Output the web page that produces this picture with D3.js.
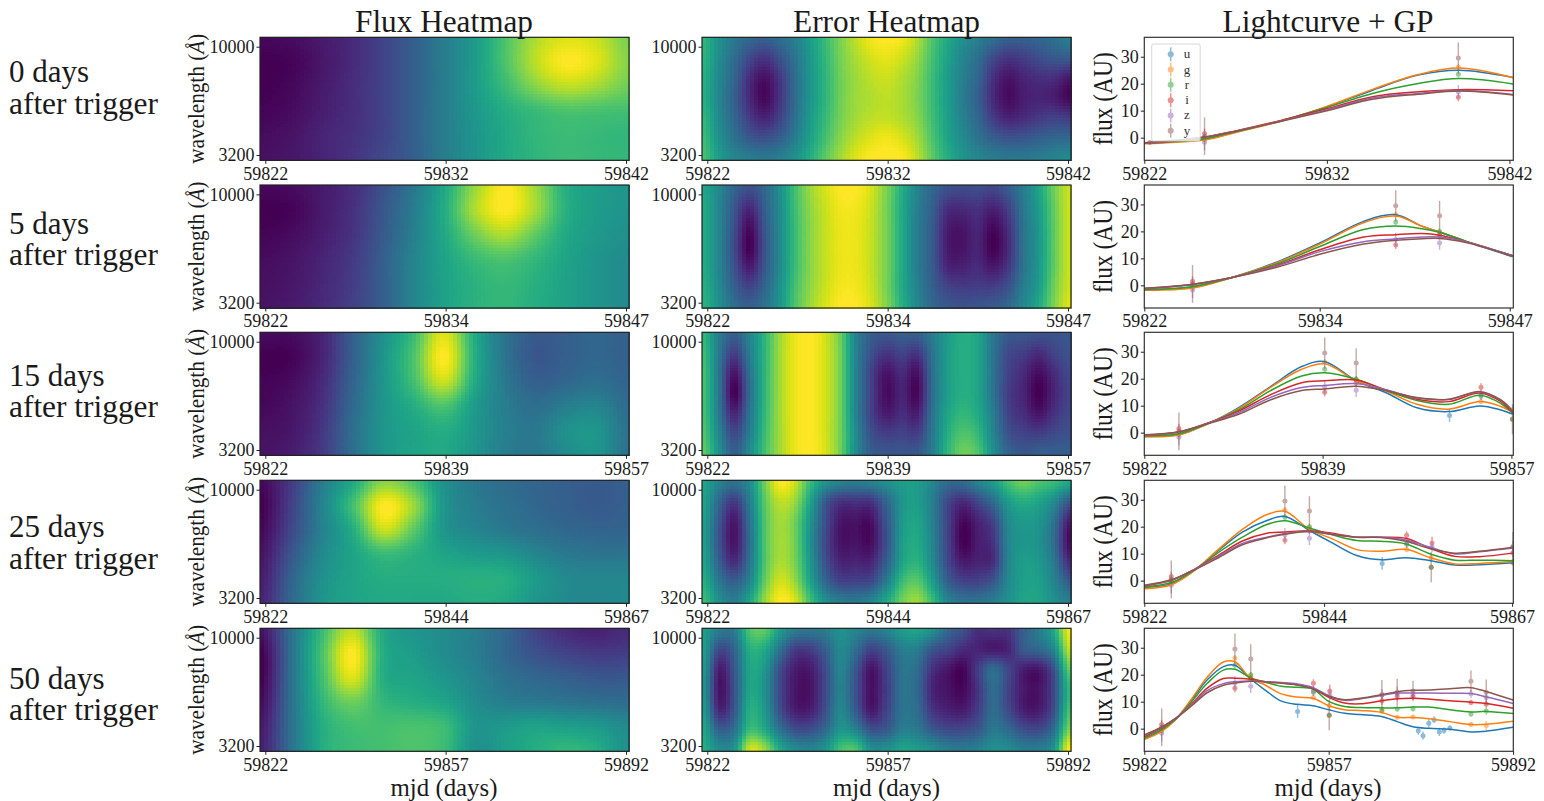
<!DOCTYPE html>
<html>
<head>
<meta charset="utf-8">
<script src="https://cdn.jsdelivr.net/npm/d3@7"></script>
<style>
  html, body { margin: 0; padding: 0; background: #fff; }
  svg { display: block; }
  text { font-family: "Liberation Serif", serif; fill: #1a1a1a; }
</style>
</head>
<body>
<svg id="chart" width="1544" height="801"></svg>
<script>
//////////
// DATA //
//////////

const rowNames = ["0 days", "5 days", "15 days", "25 days", "50 days"];
const midLabels = [59832, 59834, 59839, 59844, 59857];
const endLabels = [59842, 59847, 59857, 59867, 59892];
const rowEnds = [59842.2, 59847.23, 59857.16, 59867.12, 59892];
const startMjd = 59822;
const wavelengths = [10000, 3200];
const fluxTicks = [0, 10, 20, 30];
const bandNames = ["u", "g", "r", "i", "z", "y"];
const bandColors = ["#1f77b4", "#ff7f0e", "#2ca02c", "#d62728", "#9467bd", "#8c564b"];

// flux heatmaps, colour fraction per panel, top row is 10000 A
const flux0 = [
  [.02,.03,.07,.12,.2,.3,.42,.55,.72,.88,.95,.92,.8],
  [0,.01,.06,.12,.2,.3,.42,.55,.72,.9,1,.95,.82],
  [0,.02,.07,.13,.2,.3,.42,.55,.68,.82,.9,.86,.78],
  [.01,.03,.08,.13,.2,.3,.42,.53,.62,.68,.72,.71,.7],
  [.03,.05,.1,.14,.2,.3,.42,.52,.6,.66,.68,.67,.66],
  [.04,.06,.1,.15,.22,.3,.42,.52,.6,.65,.68,.67,.66]
];
const flux1 = [
  [.02,.03,.07,.13,.25,.4,.6,.85,1,.85,.62,.55,.52],
  [0,.01,.07,.14,.27,.42,.62,.88,1,.86,.63,.55,.52],
  [.01,.03,.08,.15,.28,.43,.6,.78,.88,.75,.6,.54,.5],
  [.03,.05,.1,.17,.3,.45,.58,.68,.72,.66,.58,.52,.48],
  [.04,.06,.11,.18,.3,.45,.57,.64,.67,.63,.57,.52,.47],
  [.05,.07,.12,.19,.3,.45,.57,.64,.66,.62,.57,.52,.47]
];
const flux2 = [
  [.03,.03,.1,.3,.5,.68,.95,.6,.38,.28,.3,.33,.3],
  [0,.01,.1,.3,.52,.72,1,.62,.38,.27,.3,.33,.3],
  [.01,.03,.12,.32,.52,.7,.92,.6,.4,.3,.33,.36,.32],
  [.02,.05,.14,.34,.52,.62,.72,.54,.42,.36,.42,.45,.35],
  [.04,.06,.16,.36,.52,.58,.62,.53,.43,.4,.5,.52,.38],
  [.05,.08,.17,.36,.52,.58,.6,.52,.42,.4,.48,.52,.38]
];
const flux3 = [
  [.02,.18,.42,.6,.82,.72,.5,.4,.35,.32,.3,.28,.3],
  [0,.2,.45,.7,1,.85,.52,.42,.37,.33,.3,.28,.3],
  [.02,.22,.44,.62,.92,.75,.52,.45,.4,.36,.33,.32,.32],
  [.05,.27,.47,.58,.68,.64,.58,.54,.52,.45,.4,.38,.38],
  [.08,.32,.5,.58,.62,.62,.62,.63,.62,.54,.47,.46,.46],
  [.1,.34,.52,.58,.6,.6,.6,.62,.6,.52,.47,.46,.47]
];
const flux4 = [
  [.05,.38,.68,.9,.6,.52,.48,.42,.33,.2,.12,.09,.12],
  [0,.38,.72,1,.62,.55,.48,.42,.33,.25,.2,.17,.18],
  [0,.38,.7,.95,.62,.58,.52,.45,.37,.33,.3,.27,.27],
  [.03,.38,.66,.78,.66,.62,.58,.48,.42,.4,.38,.36,.35],
  [.07,.38,.62,.7,.7,.71,.68,.52,.54,.57,.55,.53,.47],
  [.09,.38,.62,.68,.7,.72,.68,.5,.56,.62,.66,.62,.5]
];

// error heatmaps
const error0 = [
  [.65,.5,.4,.33,.3,.35,.43,.55,.68,.8,.9,.98,1,.98,.88,.72,.6,.5,.42,.35,.3,.3,.32,.36,.42],
  [.64,.48,.35,.22,.15,.25,.38,.53,.66,.79,.87,.93,.96,.92,.84,.7,.57,.45,.36,.22,.15,.18,.23,.27,.28],
  [.62,.46,.32,.13,.04,.16,.35,.52,.65,.78,.85,.9,.92,.88,.81,.68,.55,.43,.32,.14,.05,.1,.13,.13,.06],
  [.62,.45,.3,.12,.02,.15,.35,.52,.65,.78,.85,.88,.9,.87,.8,.68,.55,.42,.3,.12,.03,.08,.1,.08,.02],
  [.65,.47,.33,.18,.1,.2,.37,.54,.67,.79,.86,.9,.91,.88,.82,.69,.56,.44,.33,.18,.1,.13,.17,.2,.18],
  [.68,.5,.38,.28,.25,.3,.42,.57,.7,.82,.9,.95,.98,.94,.86,.72,.58,.48,.38,.3,.26,.27,.3,.33,.34],
  [.7,.55,.46,.42,.4,.43,.5,.62,.75,.86,.95,1,1,1,.9,.75,.62,.52,.46,.42,.4,.4,.42,.45,.48]
];
const error1 = [
  [.58,.46,.32,.25,.33,.5,.7,.85,.94,1,1,.94,.8,.62,.45,.33,.25,.23,.24,.22,.3,.42,.58,.78,.92],
  [.6,.45,.27,.12,.3,.48,.69,.83,.92,.98,.98,.92,.79,.6,.43,.3,.14,.13,.15,.1,.2,.4,.55,.76,.92],
  [.6,.45,.24,.03,.27,.47,.68,.82,.91,.97,.97,.91,.79,.6,.42,.28,.08,.06,.11,.02,.14,.38,.53,.75,.92],
  [.6,.45,.22,0,.25,.47,.68,.82,.91,.97,.97,.91,.79,.6,.42,.28,.07,.05,.1,0,.12,.38,.52,.75,.92],
  [.6,.45,.25,.07,.27,.47,.68,.82,.91,.97,.97,.91,.79,.6,.42,.28,.1,.09,.12,.06,.16,.38,.53,.75,.92],
  [.62,.47,.3,.2,.32,.5,.7,.83,.92,.98,.98,.92,.79,.6,.44,.3,.2,.17,.18,.18,.25,.42,.55,.78,.92],
  [.64,.5,.36,.3,.38,.52,.72,.85,.94,1,1,.94,.81,.63,.46,.33,.27,.25,.26,.28,.33,.46,.6,.8,.95]
];
const error2 = [
  [.65,.42,.3,.45,.65,.85,.97,1,.93,.77,.45,.3,.27,.3,.3,.42,.55,.62,.58,.4,.28,.27,.25,.25,.27],
  [.68,.4,.18,.42,.65,.86,.97,1,.93,.78,.45,.25,.15,.2,.15,.38,.55,.62,.58,.38,.22,.18,.12,.2,.25],
  [.7,.38,.05,.37,.65,.86,.97,1,.93,.78,.45,.2,.05,.12,.04,.36,.55,.62,.58,.38,.2,.12,.03,.12,.22],
  [.7,.38,0,.35,.65,.86,.97,1,.93,.78,.45,.2,.03,.1,.02,.35,.55,.62,.58,.38,.18,.1,0,.1,.2],
  [.7,.4,.1,.38,.66,.86,.97,1,.93,.78,.45,.2,.07,.13,.08,.38,.58,.66,.6,.42,.2,.13,.05,.14,.22],
  [.72,.45,.22,.42,.68,.86,.97,1,.93,.78,.48,.25,.18,.2,.18,.4,.62,.72,.66,.45,.25,.2,.18,.22,.25],
  [.75,.5,.3,.48,.7,.86,.97,1,.94,.78,.48,.3,.27,.27,.28,.42,.65,.78,.72,.5,.32,.27,.3,.3,.3]
];
const error3 = [
  [.58,.45,.38,.48,.78,1,.92,.68,.52,.45,.42,.45,.5,.55,.55,.45,.35,.35,.45,.55,.7,.78,.72,.68,.6],
  [.57,.33,.17,.42,.74,.9,.84,.58,.28,.15,.15,.15,.33,.52,.55,.42,.22,.12,.22,.35,.55,.62,.58,.48,.28],
  [.55,.27,.06,.37,.72,.86,.78,.52,.24,.06,.05,.04,.27,.53,.58,.43,.2,.02,.1,.2,.47,.54,.52,.38,.08],
  [.55,.25,.05,.35,.72,.86,.78,.5,.22,.05,.05,.03,.25,.55,.6,.45,.2,0,.08,.15,.45,.52,.5,.35,.03],
  [.57,.3,.12,.38,.72,.87,.79,.53,.25,.1,.1,.1,.3,.57,.64,.47,.22,.07,.1,.13,.45,.55,.53,.4,.12],
  [.62,.4,.3,.45,.76,.93,.84,.58,.33,.2,.2,.22,.42,.68,.74,.55,.3,.2,.2,.27,.47,.56,.56,.45,.28],
  [.68,.5,.42,.58,.84,1,.94,.7,.5,.42,.4,.45,.6,.78,.85,.68,.45,.38,.38,.42,.5,.58,.58,.5,.42]
];
const error4 = [
  [.55,.42,.42,.72,.75,.55,.42,.4,.42,.5,.45,.4,.45,.55,.58,.5,.33,.25,.13,.15,.15,.3,.42,.6,.98],
  [.54,.22,.32,.62,.6,.38,.18,.18,.3,.47,.36,.2,.28,.42,.42,.26,.2,.12,.1,.07,.1,.28,.33,.46,.9],
  [.52,.08,.27,.58,.53,.24,.08,.07,.23,.45,.27,.05,.2,.38,.35,.14,.06,.01,.18,.35,.21,.08,.06,.25,.75],
  [.5,.05,.25,.58,.5,.22,.06,.05,.22,.43,.25,.04,.18,.38,.33,.1,.05,.02,.15,.35,.2,.07,.05,.22,.65],
  [.53,.1,.27,.62,.53,.24,.08,.08,.24,.46,.28,.06,.2,.38,.35,.15,.09,.07,.18,.35,.22,.08,.07,.24,.7],
  [.58,.3,.37,.68,.6,.38,.24,.24,.34,.52,.44,.25,.28,.42,.4,.28,.22,.22,.27,.4,.34,.24,.22,.36,.8],
  [.62,.48,.52,.92,.85,.6,.48,.45,.52,.7,.72,.5,.5,.58,.55,.5,.42,.4,.43,.5,.48,.42,.42,.52,1]
];

// observations, days after 59822
const uDays = [29.1, 52, 52.9, 54, 55, 56, 56.9, 58];
const uFlux = [6.4, -0.8, -2.6, 2, 3.3, -1.2, -0.7, 0.2];
const uErr = [2.4, 1.5, 1.5, 1.5, 1.2, 1.5, 1.2, 1];
const gDays = [3.3, 17.2, 20.2, 32.1, 35.1, 45.1, 48, 51, 62, 64.9];
const gFlux = [-0.2, 26.2, 19.5, 11.5, 8.5, 6.5, 4.2, 4.3, 1.5, 1.2];
const gErr = [1.2, 1, 1, 1, 1, 1, 0.7, 0.6, 1, 1.6];
const rDays = [3.3, 17.2, 20.2, 32.1, 35.1, 45.1, 48, 51, 62, 64.9];
const rFlux = [-0.5, 23.5, 20, 13.5, 5, 7, 7.3, 7.4, 5.4, 6.5];
const rErr = [1, 1.2, 1, 1.2, 1, 1.2, 1, 1, 1, 1.3];
const iDays = [3.3, 17.2, 20.2, 32.1, 35.2, 45.1, 48, 51, 62, 64.9];
const iFlux = [1.5, 15, 18.5, 16.8, 14, 10.3, 12, 11.8, 9.7, 9];
const iErr = [1.8, 1.5, 1.2, 1.5, 2.3, 1.5, 1.5, 1.2, 1, 1.2];
const zDays = [3.3, 17.2, 20.2, 32.1, 35.2, 45.1, 48, 51, 62, 64.9];
const zFlux = [-1.7, 17, 15.7, 14, 12.5, 12.7, 13, 12.7, 12.9, 11.5];
const zErr = [3, 2.5, 2.5, 1.8, 2, 2, 2.5, 1.5, 1.5, 1.8];
const yDays = [3.3, 17.2, 20.2, 35.1, 45.1, 48, 51, 62, 64.9];
const yFlux = [0.5, 29.5, 25.8, 5, 12.5, 13.5, 14, 17.6, 13.5];
const yErr = [7, 5.8, 5.5, 5.6, 5.5, 5, 3.8, 4, 4.7];
const firstRowExtraDay = [0.3];
const firstRowExtraFlux = [-1.8];

// GP mean curves, one list per band in u g r i z y order
const gpDays0 = [0, 1.5, 3.3, 5, 7.5, 10, 12.5, 15, 17.26, 20.2];
const gp0 = [
  [-2.1,-1.6,-.6,2.1,6.2,11.4,17.6,23.2,25,22.3],
  [-2.3,-1.8,-.9,1.9,6.2,11.6,17.9,23.4,25.8,22.2],
  [-2.1,-1.5,-.4,2.2,6.3,11.2,16.4,20.1,21.9,19.9],
  [-2,-1.3,.2,2.5,6.4,10.7,15.2,17,17.8,17.4],
  [-2,-1.2,.1,2.4,6.2,10.3,14.7,16.4,17.5,16],
  [-1.9,-1.1,.2,2.4,6.1,10,14.2,16.1,17.3,15.8]
];
const gpDays1 = [0, 3.3, 6, 9, 12, 15, 17.2, 19, 20.2, 22, 25.2];
const gp1 = [
  [-1.7,-.5,2.9,8.5,15.7,23.7,26.2,21.9,19.8,16.3,10.6],
  [-1.8,-1,2.9,8.2,15.3,23.2,25.7,21.9,19.8,16.3,11],
  [-1.6,-.5,2.9,7.8,14.4,20.7,22,21,19.7,16.4,11],
  [-1.3,.3,2.9,7.3,13.2,17.9,18.8,19.2,18.6,16.2,11],
  [-1.2,.3,2.9,7,12.5,16.2,17.2,17.9,17.9,16.2,11],
  [-1.1,.4,2.9,6.6,11.5,15.3,16.7,17.3,17.4,15.9,10.8]
];
const gpDays2 = [0, 3.3, 6, 9, 12, 15, 17.2, 20.2, 23, 26, 29, 32, 34, 35.16];
const gp2 = [
  [-1.4,-.7,3.2,9.3,17,24.5,26.3,19.2,14.9,9.2,7.8,9.9,8.4,6.8],
  [-1.5,-.9,3.2,8.9,16.7,23.5,25.5,19.2,15.5,10.5,8.7,11.5,9.7,7.4],
  [-1.2,-.4,3.3,8.4,15.5,21,22.2,19.8,15.7,11.9,10.5,13.9,10.8,7.1],
  [-1,.2,3.5,8,14,18.5,19.2,19.5,15.9,12.4,11.5,14.7,11.5,7.3],
  [-.9,.2,3.4,7.4,13,16.7,17.5,18.2,15.9,12.8,12.4,15.1,12,7.7],
  [-.8,.3,3.3,6.8,12.1,15.6,16.2,17.2,15.6,13,12.3,15.2,12.1,7.8]
];
const gpDays3 = [0, 3.3, 6, 9, 12, 15, 17.2, 20.2, 23, 26, 29, 32, 35, 38, 41, 45.12];
const gp3 = [
  [-2.5,-1.2,3.5,11,18,22.3,23.8,18.6,14,9.3,7.7,8.5,7.4,5.8,5.9,6.6],
  [-3,-1.5,3.5,11.4,19,24.5,25.7,19,15.5,11.5,10.9,11.6,8.5,6.2,6.4,7.1],
  [-2.4,-.7,3.7,10.3,16.1,20.8,22.2,19.5,17,14.9,14.6,13.6,9.9,7.6,7.6,7.4],
  [-2,.1,4,9.3,14.7,17.6,18,18.5,17.6,16.1,16.1,15.7,12,9,8.9,10.2],
  [-1.8,.2,3.9,8.8,13.8,16.1,17.5,18.3,17.2,16.1,16.1,15.1,12.4,9.9,10.7,12.1],
  [-1.7,.3,3.8,8.4,13.3,15.9,17.2,18.2,17.1,16.1,16,14.6,11.8,10.2,10.9,12.4]
];
const gpDays4 = [0, 3.3, 6, 9, 12, 15, 17.2, 20.2, 23, 26, 29, 32, 35, 38, 41, 45, 48, 51, 54, 58, 62, 65, 70];
const gp4 = [
  [-3.8,-.7,3.5,10.7,18.2,23,23.5,18.4,14.2,10.2,9,8.5,7,5.7,5.2,4.5,2.6,.7,.1,-.2,-1.2,-.9,.5],
  [-4,-1,3.5,11.1,19.2,24.7,24.8,18.6,16.1,12.9,11.7,11.3,8.5,7,6.7,6,4.2,4.1,3.7,2.6,1.5,1.6,2.7],
  [-3.5,-.3,3.6,10.1,16.9,21.7,22,18.8,17.2,15.7,15.3,14.7,10.1,8.2,7.8,7.7,7.7,8,8,7,6.2,6.4,5.6],
  [-3,.3,3.8,9.2,15.1,18.6,18.7,18.3,17.4,16.9,16.3,14.9,11.6,9.5,9.2,10.3,11.1,11.3,11,10.3,9.8,9.3,7.6],
  [-2.5,.5,3.9,8.8,14.2,16.7,17.4,17.7,17.4,17.1,16.6,15.3,12.2,10.5,11,12.3,13.2,13.2,13.2,13.1,13,11.7,9.3],
  [-2.3,.6,3.9,8.5,13.4,16.1,16.9,17.6,17.3,16.9,16.2,14.8,12,10.7,11.3,12.6,13.7,14.2,14.3,14.8,15.2,13.7,10.6]
];

const fluxGrids = [flux0, flux1, flux2, flux3, flux4];
const errorGrids = [error0, error1, error2, error3, error4];
const gpDays = [gpDays0, gpDays1, gpDays2, gpDays3, gpDays4];
const gpCurves = [gp0, gp1, gp2, gp3, gp4];
const obsDays = [uDays, gDays, rDays, iDays, zDays, yDays];
const obsFlux = [uFlux, gFlux, rFlux, iFlux, zFlux, yFlux];
const obsErr = [uErr, gErr, rErr, iErr, zErr, yErr];

////////////
// LAYOUT //
////////////

const rowTops = [37.3, 185, 332.3, 480.3, 628.3];
const rowH = 123;
const panelW = 369;
const fluxLeft = 260;
const errorLeft = 702;
const lcLeft = 1144.3;
const cellCols = 92;
const cellRows = 41;

const svg = d3.select("#chart");
const color = d3.scaleSequential(d3.interpolateViridis).domain([0, 1]).clamp(true);

function label(x, y, str, size, len, rotate) {
  let t = svg.append("text")
    .attr("text-anchor", "middle")
    .attr("font-size", size)
    .attr("textLength", len)
    .attr("lengthAdjust", "spacingAndGlyphs")
    .text(str);
  t.attr("transform", rotate ? `translate(${x}, ${y}) rotate(-90)` : `translate(${x}, ${y})`);
  return t;
}

function styleAxis(g) {
  g.select(".domain").remove();
  g.selectAll("line").attr("stroke", "#222").attr("stroke-width", 1);
  g.selectAll("text")
    .attr("font-family", "Liberation Serif, serif")
    .attr("font-size", 18)
    .attr("fill", "#333");
}

// catmull-rom through the read-off values, so peaks stay where they were read
function through(vals) {
  let n = vals.length - 1;
  return t => {
    let p = Math.min(t, 0.99999) * n;
    let i = Math.floor(p);
    let u = p - i;
    let a = vals[Math.max(i - 1, 0)], b = vals[i], c = vals[i + 1], d = vals[Math.min(i + 2, n)];
    return b + 0.5 * u * (c - a + u * (2 * a - 5 * b + 4 * c - d + u * (3 * (b - c) + d - a)));
  };
}

function drawHeat(grid, left, top, row) {
  let rowInterp = grid.map(r => through(r));
  let cols = d3.range(cellCols);
  let rows = d3.range(cellRows);
  let x = d3.scaleBand().domain(cols).range([left, left + panelW]);
  let y = d3.scaleBand().domain(rows).range([top, top + rowH]);
  let cells = [];
  for (let c of cols) {
    let column = through(rowInterp.map(f => f(c / (cellCols - 1))));
    for (let r of rows) {
      cells.push({ c: c, r: r, v: column(r / (cellRows - 1)) });
    }
  }
  let g = svg.append("g").attr("shape-rendering", "crispEdges");
  g.selectAll("rect")
    .data(cells)
    .enter()
    .append("rect")
    .attr("x", d => x(d.c))
    .attr("y", d => y(d.r))
    .attr("width", x.bandwidth() + 0.6)
    .attr("height", y.bandwidth() + 0.6)
    .attr("fill", d => color(d.v));

  svg.append("rect")
    .attr("x", left).attr("y", top)
    .attr("width", panelW).attr("height", rowH)
    .attr("fill", "none").attr("stroke", "#222").attr("stroke-width", 1.2);

  let xTicks = d3.scalePoint()
    .domain([startMjd, midLabels[row], endLabels[row]])
    .range([left + 5.3, left + 366]);
  svg.append("g")
    .attr("transform", `translate(0, ${top + rowH})`)
    .call(d3.axisBottom(xTicks).tickSize(3.5).tickPadding(3).tickFormat(d3.format("d")))
    .call(styleAxis);

  let yTicks = d3.scalePoint()
    .domain(wavelengths)
    .range([top + 9.4, top + rowH - 5.3]);
  svg.append("g")
    .attr("transform", `translate(${left}, 0)`)
    .call(d3.axisLeft(yTicks).tickSize(3.5).tickPadding(2).tickFormat(d3.format("d")))
    .call(styleAxis);
}

function drawBars(g, x, y, pts, col) {
  let dots = g.append("g").attr("opacity", 0.5);
  dots.selectAll("line")
    .data(pts)
    .enter()
    .append("line")
    .attr("x1", d => x(d.t)).attr("x2", d => x(d.t))
    .attr("y1", d => y(d.f - d.e)).attr("y2", d => y(d.f + d.e))
    .attr("stroke", col).attr("stroke-width", 1.4);
  dots.selectAll("circle")
    .data(pts)
    .enter()
    .append("circle")
    .attr("cx", d => x(d.t)).attr("cy", d => y(d.f))
    .attr("r", 2.5)
    .attr("fill", col);
}

function drawCurve(row) {
  let top = rowTops[row];
  let span = rowEnds[row] - startMjd;
  let x = d3.scaleLinear().domain([0, span]).range([lcLeft, lcLeft + panelW - 0.2]);
  let y = d3.scaleLinear().domain([-8.4, 37.2]).range([top + rowH, top]);

  let clipId = "clip" + row;
  svg.append("clipPath").attr("id", clipId)
    .append("rect")
    .attr("x", lcLeft).attr("y", top)
    .attr("width", panelW).attr("height", rowH);
  let plot = svg.append("g").attr("clip-path", `url(#${clipId})`);

  bandNames.forEach((b, i) => {
    let pts = obsDays[i]
      .map((t, j) => ({ t: t, f: obsFlux[i][j], e: obsErr[i][j] }))
      .filter(d => d.t <= span);
    if (row == 0 && b == "y") {
      pts.push({ t: firstRowExtraDay[0], f: firstRowExtraFlux[0], e: 0.4 });
    }
    drawBars(plot, x, y, pts, bandColors[i]);
  });

  let line = d3.line()
    .x((d, j) => x(gpDays[row][j]))
    .y(d => y(d))
    .curve(d3.curveCatmullRom.alpha(0.5));
  plot.selectAll("path.gp")
    .data(gpCurves[row])
    .enter()
    .append("path")
    .attr("class", "gp")
    .attr("d", line)
    .attr("fill", "none")
    .attr("stroke", (d, i) => bandColors[i])
    .attr("stroke-width", 1.5);

  svg.append("rect")
    .attr("x", lcLeft).attr("y", top)
    .attr("width", panelW).attr("height", rowH)
    .attr("fill", "none").attr("stroke", "#333").attr("stroke-width", 1.2);

  svg.append("g")
    .attr("transform", `translate(0, ${top + rowH})`)
    .call(d3.axisBottom(d3.scaleLinear()
        .domain([startMjd, rowEnds[row]])
        .range([lcLeft, lcLeft + panelW - 0.2]))
      .tickValues([startMjd, midLabels[row], endLabels[row]])
      .tickSize(3.5).tickPadding(3).tickFormat(d3.format("d")))
    .call(styleAxis);

  svg.append("g")
    .attr("transform", `translate(${lcLeft}, 0)`)
    .call(d3.axisLeft(y).tickValues(fluxTicks).tickSize(3.5).tickPadding(2))
    .call(styleAxis);
}

function drawLegend() {
  let g = svg.append("g");
  g.append("rect")
    .attr("x", 1151.7).attr("y", 44)
    .attr("width", 48.5).attr("height", 97)
    .attr("rx", 2)
    .attr("fill", "#fff").attr("fill-opacity", 0.8)
    .attr("stroke", "#ccc").attr("stroke-opacity", 0.8);
  let y = d3.scalePoint().domain(bandNames).range([54.3, 130.7]);
  bandNames.forEach((b, i) => {
    let e = g.append("g").attr("opacity", 0.5);
    e.append("line")
      .attr("x1", 1170.7).attr("x2", 1170.7)
      .attr("y1", y(b) - 7).attr("y2", y(b) + 7)
      .attr("stroke", bandColors[i]).attr("stroke-width", 1.5);
    e.append("circle")
      .attr("cx", 1170.7).attr("cy", y(b)).attr("r", 3)
      .attr("fill", bandColors[i]);
    g.append("text")
      .attr("x", 1187).attr("y", y(b) + 4)
      .attr("text-anchor", "middle")
      .attr("font-size", 13)
      .style("fill", "#333")
      .text(b);
  });
}

////////////
// RENDER //
////////////

rowTops.forEach((top, row) => {
  drawHeat(fluxGrids[row], fluxLeft, top, row);
  drawHeat(errorGrids[row], errorLeft, top, row);
  drawCurve(row);

  let mid = top + rowH / 2;

  // row captions drift a little from the panels in the original
  let caption = svg.append("text")
    .attr("font-size", 31)
    .attr("transform", `translate(9, ${82.3 + 151.6 * row})`);
  caption.append("tspan").attr("x", 0).attr("y", 0).text(rowNames[row]);
  caption.append("tspan").attr("x", 0).attr("y", 31.5)
    .attr("textLength", 149)
    .attr("lengthAdjust", "spacingAndGlyphs")
    .text("after trigger");

  let wl = label(204, mid, "", 24, 130, true);
  wl.append("tspan").text("wavelength (");
  wl.append("tspan").attr("font-style", "italic").text("\u00c5");
  wl.append("tspan").text(")");

  label(1112, mid, "flux (AU)", 27, 93, true);
});

drawLegend();

label(444, 32, "Flux Heatmap", 31, 178);
label(886.5, 32, "Error Heatmap", 31, 187);
label(1328, 32, "Lightcurve + GP", 31, 211);
label(444, 796, "mjd (days)", 26, 107);
label(886.5, 796, "mjd (days)", 26, 107);
label(1328, 796, "mjd (days)", 26, 107);
</script>
</body>
</html>
